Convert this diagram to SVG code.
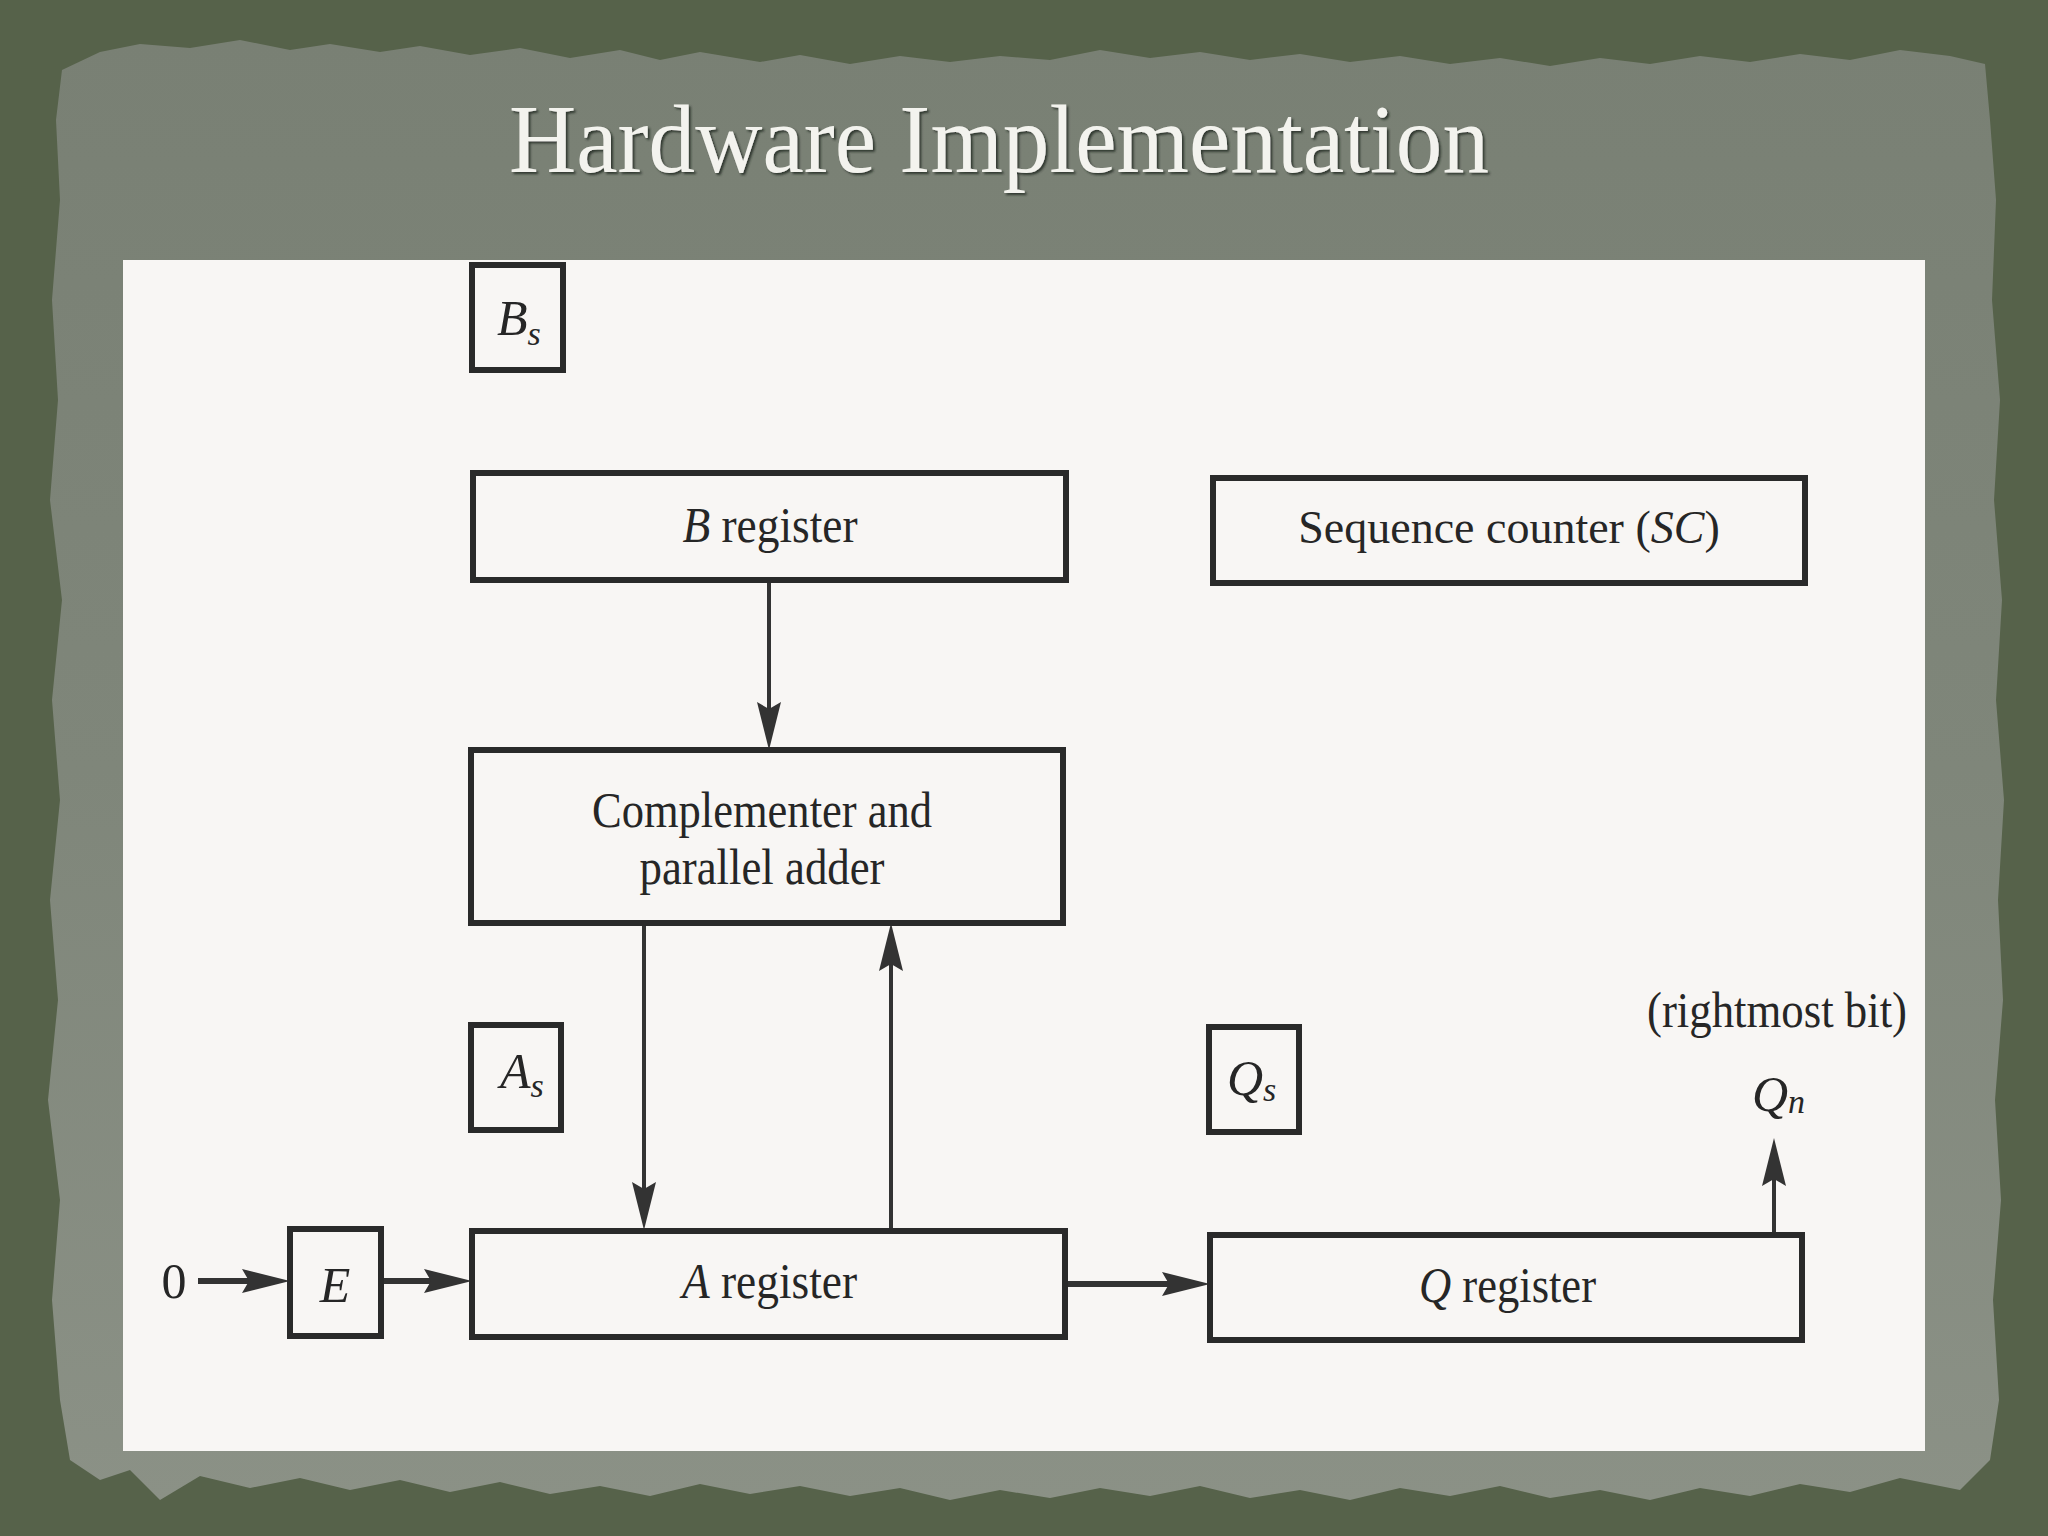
<svg xmlns="http://www.w3.org/2000/svg" width="2048" height="1536" viewBox="0 0 2048 1536">
  <defs>
    <linearGradient id="paperGrad" x1="0" y1="0" x2="0" y2="1">
      <stop offset="0" stop-color="#798074"/>
      <stop offset="0.5" stop-color="#7f867a"/>
      <stop offset="1" stop-color="#8b9186"/>
    </linearGradient>
    <filter id="titleShadow" x="-5%" y="-20%" width="110%" height="150%">
      <feDropShadow dx="2" dy="2" stdDeviation="1" flood-color="#2c3127" flood-opacity="0.9"/>
    </filter>
    <marker id="arrow" viewBox="0 0 48 24" refX="26" refY="12" markerWidth="48" markerHeight="24" markerUnits="userSpaceOnUse" orient="auto">
      <path d="M0,0 L48,12 L0,24 L7,12 z" fill="#333333"/>
    </marker>
    <style>
      .box { fill: none; stroke: #2a2a2a; stroke-width: 6; }
      .lbl { font-family: "Liberation Serif", "Times New Roman", serif; font-size: 50px; fill: #262626; }
      .sc { font-family: "Liberation Serif", "Times New Roman", serif; font-size: 46px; fill: #262626; }
      .it { font-style: italic; }
      .sub { font-family: "Liberation Serif", "Times New Roman", serif; font-style: italic; font-size: 34px; fill: #262626; }
      .vline { stroke: #333333; stroke-width: 4; fill: none; marker-end: url(#arrow); }
      .hline { stroke: #333333; stroke-width: 6; fill: none; marker-end: url(#arrow); }
      .title { font-family: "Liberation Serif", "Times New Roman", serif; font-size: 97px; fill: #f3f3ee; }
    </style>
  </defs>

  <!-- background -->
  <rect x="0" y="0" width="2048" height="1536" fill="#56624a"/>
  <polygon fill="url(#paperGrad)" points="62,70 100,52 140,44 190,48 240,40 290,50 330,44 380,52 420,46 470,55 520,48 570,58 620,50 660,60 700,52 760,62 800,55 850,64 900,56 950,62 1000,56 1050,60 1100,50 1150,58 1200,52 1250,60 1300,54 1350,62 1400,56 1450,64 1500,58 1550,66 1600,58 1650,64 1700,56 1750,62 1800,54 1850,60 1900,50 1950,56 1985,64 1990,120 1996,200 1992,300 2000,400 1994,500 2002,600 1996,700 2004,800 1998,900 2003,1000 1995,1100 2001,1200 1993,1300 1999,1400 1990,1460 1960,1490 1900,1478 1850,1492 1800,1484 1750,1496 1700,1488 1650,1500 1600,1490 1550,1498 1500,1486 1450,1496 1400,1488 1350,1500 1300,1490 1250,1498 1200,1486 1150,1496 1100,1488 1050,1498 1000,1490 950,1500 900,1488 850,1496 800,1486 750,1494 700,1484 650,1496 600,1486 550,1494 500,1482 450,1492 400,1480 350,1490 300,1478 250,1488 200,1476 160,1500 130,1470 100,1480 70,1460 60,1400 52,1300 60,1200 48,1100 58,1000 50,900 60,800 52,700 62,600 50,500 58,400 52,300 60,200 56,120"/>

  <!-- title -->
  <text class="title" x="999" y="172" text-anchor="middle" textLength="980" lengthAdjust="spacingAndGlyphs" filter="url(#titleShadow)">Hardware Implementation</text>

  <!-- white panel -->
  <rect x="123" y="260" width="1802" height="1191" fill="#f8f6f4"/>

  <!-- connectors -->
  <g id="connectors">
    <line class="vline" x1="769" y1="581" x2="769" y2="728"/>
    <line class="vline" x1="644" y1="923" x2="644" y2="1208"/>
    <line class="vline" x1="891" y1="1230" x2="891" y2="945"/>
    <line class="vline" x1="1774" y1="1235" x2="1774" y2="1160"/>
    <line class="hline" x1="198" y1="1281" x2="268" y2="1281"/>
    <line class="hline" x1="382" y1="1281" x2="450" y2="1281"/>
    <line class="hline" x1="1065" y1="1284" x2="1188" y2="1284"/>
  </g>

  <!-- nodes -->
  <g id="node-Bs">
    <rect class="box" x="472" y="265" width="91" height="105"/>
    <text class="lbl it" x="497" y="335">B<tspan class="sub" dy="10">s</tspan></text>
  </g>

  <g id="node-Breg">
    <rect class="box" x="473" y="473" width="593" height="107"/>
    <text class="lbl" x="770" y="542" text-anchor="middle" textLength="175" lengthAdjust="spacingAndGlyphs"><tspan class="it">B</tspan> register</text>
  </g>

  <g id="node-SC">
    <rect class="box" x="1213" y="478" width="592" height="105"/>
    <text class="sc" x="1509" y="543" text-anchor="middle">Sequence counter (<tspan class="it">SC</tspan>)</text>
  </g>

  <g id="node-adder">
    <rect class="box" x="471" y="750" width="592" height="173"/>
    <text class="lbl" x="762" y="827" text-anchor="middle" textLength="340" lengthAdjust="spacingAndGlyphs">Complementer and</text>
    <text class="lbl" x="762" y="884" text-anchor="middle" textLength="245" lengthAdjust="spacingAndGlyphs">parallel adder</text>
  </g>

  <g id="node-As">
    <rect class="box" x="471" y="1025" width="90" height="105"/>
    <text class="lbl it" x="500" y="1088">A<tspan class="sub" dy="9">s</tspan></text>
  </g>

  <g id="node-Qs">
    <rect class="box" x="1209" y="1027" width="90" height="105"/>
    <text class="lbl it" x="1227" y="1095">Q<tspan class="sub" dy="6">s</tspan></text>
  </g>

  <g id="node-zero">
    <text class="lbl" x="174" y="1298" text-anchor="middle">0</text>
  </g>

  <g id="node-E">
    <rect class="box" x="290" y="1229" width="91" height="107"/>
    <text class="lbl it" x="335" y="1302" text-anchor="middle">E</text>
  </g>

  <g id="node-Areg">
    <rect class="box" x="472" y="1231" width="593" height="106"/>
    <text class="lbl" x="682" y="1298" textLength="175" lengthAdjust="spacingAndGlyphs"><tspan class="it">A</tspan> register</text>
  </g>

  <g id="node-Qreg">
    <rect class="box" x="1210" y="1235" width="592" height="105"/>
    <text class="lbl" x="1419" y="1302" textLength="177" lengthAdjust="spacingAndGlyphs"><tspan class="it">Q</tspan> register</text>
  </g>

  <g id="node-Qn">
    <text class="lbl it" x="1752" y="1111">Q<tspan class="sub" dy="2">n</tspan></text>
    <text class="lbl" x="1647" y="1027" textLength="260" lengthAdjust="spacingAndGlyphs">(rightmost bit)</text>
  </g>
</svg>
